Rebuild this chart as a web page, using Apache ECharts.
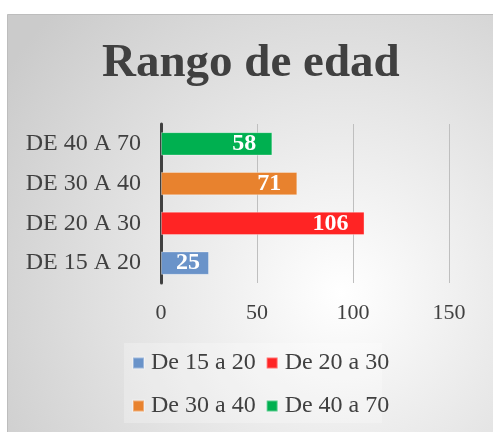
<!DOCTYPE html>
<html>
<head>
<meta charset="utf-8">
<style>
html,body{margin:0;padding:0;background:#fff;}
#c{width:493px;height:432px;}
</style>
<script src="https://cdn.jsdelivr.net/npm/echarts@6/dist/echarts.min.js"></script>
</head>
<body>
<div id="c"></div>
<script>
// Data
const categories = ['DE 15 A 20', 'DE 20 A 30', 'DE 30 A 40', 'DE 40 A 70'];
const seriesNames = ['De 15 a 20', 'De 20 a 30', 'De 30 a 40', 'De 40 a 70'];
const values = [25, 106, 71, 58];
const xTicks = [0, 50, 100, 150];

const colors = ['#6a93c9', '#ff2424', '#e8822e', '#00b050'];
const labelDist = [9, 16, 16, 16];
const FONT = "'Liberation Serif', 'Times New Roman', serif";

const chart = echarts.init(document.getElementById('c'));

const series = seriesNames.map((name, i) => ({
  name: name,
  type: 'bar',
  stack: 'all',
  barWidth: '59%',
  data: categories.map((c, j) => (j === i ? values[j] : '-')),
  itemStyle: { color: colors[i], borderColor: 'rgba(255,255,255,0.35)', borderWidth: 1 },
  label: {
    show: true,
    position: 'insideRight',
    distance: labelDist[i],
    color: '#fff',
    fontFamily: FONT,
    fontWeight: 'bold',
    fontSize: 24
  }
}));

chart.setOption({
  animation: false,
  graphic: [
    {
      type: 'rect', z: -10, silent: true,
      shape: { x: 7.5, y: 14.5, width: 490, height: 422 },
      style: {
        fill: { type: 'radial', x: 0.68, y: 0.66, r: 0.95,
          colorStops: [{ offset: 0, color: '#ffffff' }, { offset: 1, color: '#cbcbcb' }] },
        stroke: '#bdbdbd', lineWidth: 1
      }
    },
    {
      type: 'rect', z: -9, silent: true,
      shape: { x: 124, y: 343, width: 258, height: 80 },
      style: { fill: 'rgba(255,255,255,0.25)' }
    }
  ],
  title: {
    text: 'Rango de edad',
    left: 102,
    top: 40,
    padding: 0,
    textStyle: { fontFamily: FONT, fontWeight: 'bold', fontSize: 47, color: '#404040' }
  },
  legend: [
    {
      data: seriesNames.slice(0, 2),
      left: 132, top: 351, padding: 0, itemGap: 10,
      itemWidth: 11, itemHeight: 11, icon: 'rect',
      textStyle: { fontFamily: FONT, fontSize: 24, color: '#404040', padding: [0, 0, 0, 2] }
    },
    {
      data: seriesNames.slice(2, 4),
      left: 132, top: 394, padding: 0, itemGap: 10,
      itemWidth: 11, itemHeight: 11, icon: 'rect',
      textStyle: { fontFamily: FONT, fontSize: 24, color: '#404040', padding: [0, 0, 0, 2] }
    }
  ],
  grid: { left: 161, right: 44, top: 124, bottom: 149, containLabel: false },
  xAxis: {
    type: 'value',
    min: xTicks[0], max: xTicks[xTicks.length - 1], interval: xTicks[1] - xTicks[0],
    axisLine: { show: false },
    axisTick: { show: false },
    splitLine: { lineStyle: { color: '#bfbfbf', width: 1 } },
    axisLabel: { margin: 19, fontFamily: FONT, fontSize: 22, color: '#404040' }
  },
  yAxis: {
    type: 'category',
    data: categories,
    axisTick: { show: false },
    axisLine: { show: true, lineStyle: { color: '#404040', width: 3 } },
    axisLabel: { margin: 20, fontFamily: FONT, fontSize: 24, color: '#404040' }
  },
  series: series
});
</script>
</body>
</html>
